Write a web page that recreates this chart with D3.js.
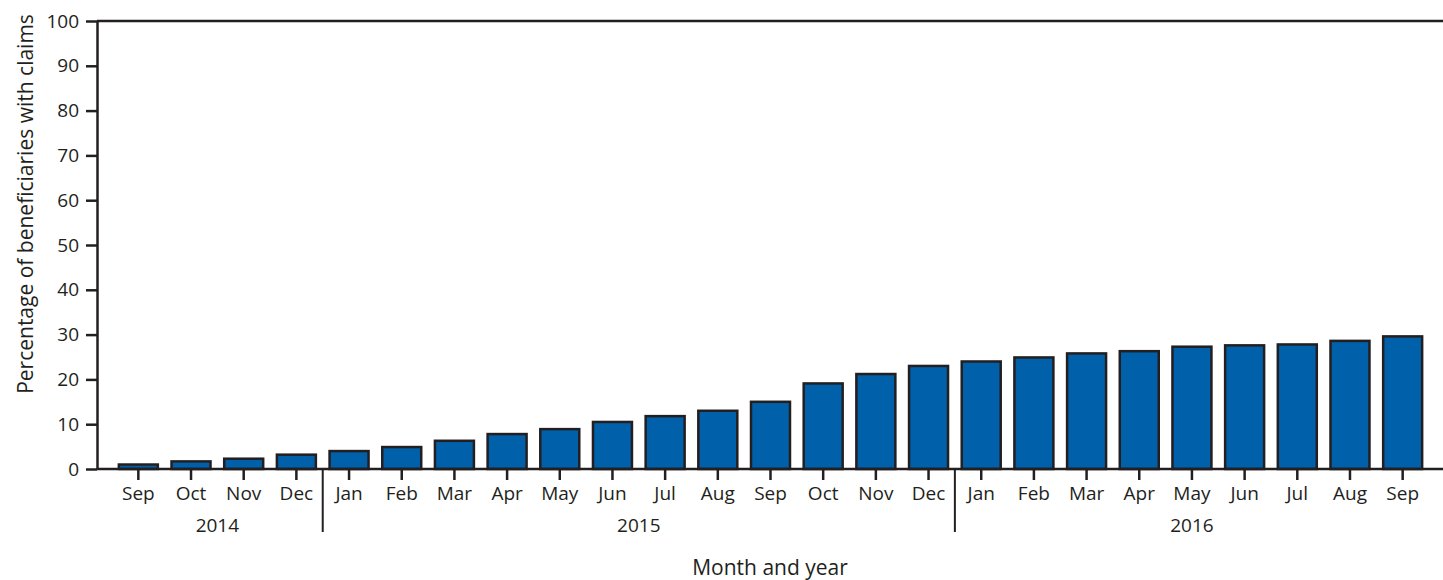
<!DOCTYPE html>
<html lang="en">
<head>
<meta charset="utf-8">
<title>Beneficiaries with claims</title>
<script src="https://d3js.org/d3.v7.min.js"></script>
<style>
  body { margin: 0; background: #fff; }
  svg { display: block; font-family: "Open Sans", sans-serif; }
</style>
</head>
<body>
<script>
// months shown under each bar
const months = ["Sep", "Oct", "Nov", "Dec",
  "Jan", "Feb", "Mar", "Apr", "May", "Jun", "Jul", "Aug", "Sep", "Oct", "Nov", "Dec",
  "Jan", "Feb", "Mar", "Apr", "May", "Jun", "Jul", "Aug", "Sep"];
// year of each bar
const yearOf = [2014, 2014, 2014, 2014,
  2015, 2015, 2015, 2015, 2015, 2015, 2015, 2015, 2015, 2015, 2015, 2015,
  2016, 2016, 2016, 2016, 2016, 2016, 2016, 2016, 2016];
// percentage of beneficiaries with claims
const values = [1.0, 1.7, 2.3, 3.2,
  4.0, 4.9, 6.3, 7.8, 8.9, 10.5, 11.8, 13.0, 15.0, 19.1, 21.2, 23.0,
  24.0, 24.9, 25.8, 26.3, 27.3, 27.6, 27.8, 28.6, 29.6];
const yTicks = [0, 10, 20, 30, 40, 50, 60, 70, 80, 90, 100];

const width = 1443, height = 580;
const marginLeft = 97, marginTop = 21, marginBottom = 111;
const ink = "#231f20";

const data = months.map((m, i) => ({key: i, month: m, year: yearOf[i], value: values[i]}));

const svg = d3.select("body").append("svg")
  .attr("width", width)
  .attr("height", height);

const x = d3.scaleBand()
  .domain(data.map(d => d.key))
  .range([112, 1429])
  .paddingInner(0.26)
  .paddingOuter(0.13);

const y = d3.scaleLinear()
  .domain([0, 100])
  .range([height - marginBottom, marginTop]);

// top frame line at 100
svg.append("line")
  .attr("x1", marginLeft).attr("x2", width)
  .attr("y1", y(100)).attr("y2", y(100))
  .attr("stroke", ink).attr("stroke-width", 2.5);

// bars
svg.append("g")
  .selectAll("rect")
  .data(data)
  .join("rect")
  .attr("x", d => x(d.key))
  .attr("y", d => y(d.value))
  .attr("width", x.bandwidth())
  .attr("height", d => y(0) - y(d.value))
  .attr("fill", "#0060a9")
  .attr("stroke", ink)
  .attr("stroke-width", 2.5);

// y axis
svg.append("g")
  .attr("transform", `translate(${marginLeft},0)`)
  .call(d3.axisLeft(y).tickValues(yTicks).tickSize(11).tickPadding(7).tickSizeOuter(0))
  .call(g => g.select(".domain").attr("stroke", ink).attr("stroke-width", 2.5))
  .call(g => g.selectAll(".tick line").attr("stroke", ink).attr("stroke-width", 2.5))
  .call(g => g.selectAll(".tick text")
    .attr("fill", ink).style("font-size", "19px").attr("font-family", "Open Sans"));

// x axis
const xAxis = svg.append("g")
  .attr("transform", `translate(0,${y(0)})`)
  .call(d3.axisBottom(x).tickFormat(i => months[i]).tickSize(11).tickPadding(7).tickSizeOuter(0));
xAxis.select(".domain").remove();
xAxis.append("line")
  .attr("x1", marginLeft).attr("x2", width)
  .attr("stroke", ink).attr("stroke-width", 2.5);
xAxis.selectAll(".tick line").attr("stroke", ink).attr("stroke-width", 2.5);
xAxis.selectAll(".tick text")
  .attr("fill", ink).style("font-size", "19px").attr("font-family", "Open Sans");

// year groups with separators
const yearGroups = d3.groups(data, d => d.year);
const half = x.step() * x.paddingInner() / 2;
yearGroups.forEach(([yr, ds], gi) => {
  const x0 = x(ds[0].key), x1 = x(ds[ds.length - 1].key) + x.bandwidth();
  svg.append("text")
    .attr("x", (x0 + x1) / 2)
    .attr("y", 532)
    .attr("text-anchor", "middle")
    .attr("fill", ink)
    .style("font-size", "19px")
    .text(yr);
  if (gi > 0) {
    svg.append("line")
      .attr("x1", x0 - half).attr("x2", x0 - half)
      .attr("y1", y(0)).attr("y2", 532)
      .attr("stroke", ink).attr("stroke-width", 2);
  }
});

// axis titles
svg.append("text")
  .attr("x", (marginLeft + width) / 2)
  .attr("y", 575)
  .attr("text-anchor", "middle")
  .attr("fill", ink)
  .style("font-size", "21px")
  .text("Month and year");

svg.append("text")
  .attr("transform", `translate(33,${(13 + 395) / 2}) rotate(-90)`)
  .attr("text-anchor", "middle")
  .attr("fill", ink)
  .style("font-size", "21px")
  .text("Percentage of beneficiaries with claims");
</script>
</body>
</html>
